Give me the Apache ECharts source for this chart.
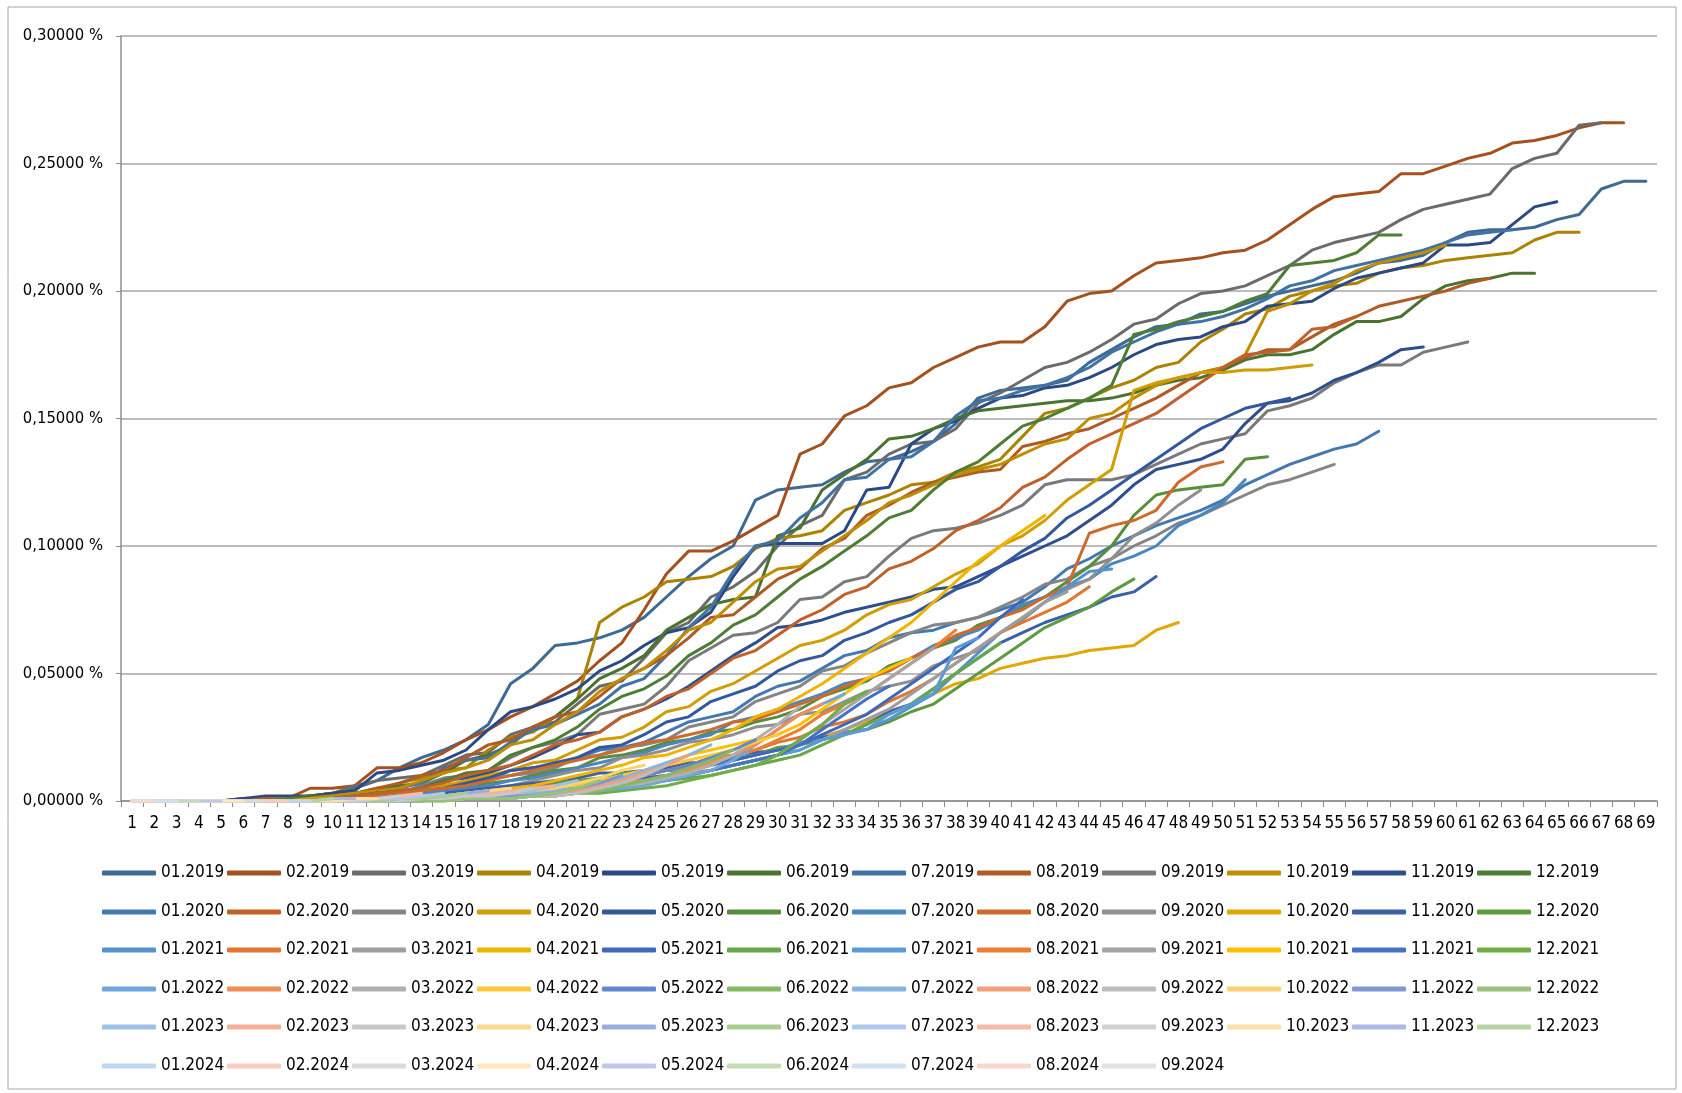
<!DOCTYPE html>
<html>
<head>
<meta charset="utf-8">
<script src="https://cdn.jsdelivr.net/npm/echarts@6/dist/echarts.min.js"></script>
<style>
  html, body { margin: 0; padding: 0; background: #fff; }
  #chart { width: 1682px; height: 1093px; }
</style>
</head>
<body>
<div id="chart"></div>
<script>
// x axis: month since start (1..69)
var categories = ['1','2','3','4','5','6','7','8','9','10','11','12','13','14','15','16','17','18','19','20',
  '21','22','23','24','25','26','27','28','29','30','31','32','33','34','35','36','37','38','39','40',
  '41','42','43','44','45','46','47','48','49','50','51','52','53','54','55','56','57','58','59','60',
  '61','62','63','64','65','66','67','68','69'];

// y axis ticks, in percent
var yTicks = [0, 0.05, 0.10, 0.15, 0.20, 0.25, 0.30];

// cohort labels
var years = ['2019', '2020', '2021', '2022', '2023', '2024'];
var monthNames = ['01','02','03','04','05','06','07','08','09','10','11','12'];

// values in thousandths of a percent (266 -> 0,266 %)
var d2019 = [
  [0,0,0,0,0,1,1,1,2,3, 5,8,13,17,20,24,30,46,52,61, 62,64,67,72,80,88,95,100,118,122, 123,124,129,133,134,137,141,148,158,161, 162,163,165,172,177,182,186,187,191,192, 195,198,200,202,204,207,211,212,214,219, 223,224,224,225,228,230,240,243,243],
  [0,0,0,0,0,0,1,1,5,5, 6,13,13,15,19,24,28,33,37,42, 47,55,62,75,89,98,98,102,107,112, 136,140,151,155,162,164,170,174,178,180, 180,186,196,199,200,206,211,212,213,215, 216,220,226,232,237,238,239,246,246,249, 252,254,258,259,261,264,266,266],
  [0,0,0,0,0,1,1,1,2,3, 6,8,9,10,14,18,19,26,29,31, 38,45,47,56,66,70,80,84,90,100, 108,112,126,129,136,140,141,146,156,160, 165,170,172,176,181,187,189,195,199,200, 202,206,210,216,219,221,223,228,232,234, 236,238,248,252,254,265,266],
  [0,0,0,0,0,0,1,1,1,2, 3,4,7,9,12,13,20,25,27,33, 40,70,76,80,86,87,88,92,99,103, 104,106,114,117,120,124,125,129,131,134, 143,152,154,158,162,165,170,172,180,185, 191,193,198,200,202,203,207,209,210,212, 213,214,215,220,223,223],
  [0,0,0,0,0,1,2,2,2,3, 4,11,12,14,16,20,28,35,37,40, 44,51,55,61,66,68,74,88,100,101, 101,101,106,122,123,140,146,149,154,158, 159,162,163,166,170,175,179,181,182,186, 188,194,195,196,201,205,207,209,211,218, 218,219,226,233,235],
  [0,0,0,0,0,0,1,1,2,2, 3,5,6,7,11,16,18,22,29,33, 40,48,52,57,67,72,77,79,80,104, 107,122,128,134,142,143,146,150,153,154, 155,156,157,157,158,160,163,165,166,169, 173,175,175,177,183,188,188,190,197,202, 204,205,207,207],
  [0,0,0,0,0,0,0,1,1,2, 3,4,5,7,13,16,17,23,28,30, 34,38,45,48,57,68,76,90,100,102, 111,117,126,127,134,135,141,151,157,158, 161,163,166,170,176,180,184,187,188,190, 193,197,202,204,208,210,212,214,216,219, 222,223,224],
  [0,0,0,0,0,0,1,1,1,2, 3,5,7,10,12,17,22,24,29,33, 35,41,48,52,57,64,72,73,80,87, 91,99,103,112,116,121,125,127,129,130, 139,141,144,146,150,154,158,163,168,170, 174,177,177,182,187,190,194,196,198,200, 203,205],
  [0,0,0,0,0,0,0,1,1,1, 2,3,3,6,9,10,12,17,21,23, 26,34,36,38,45,55,60,65,66,70, 79,80,86,88,96,103,106,107,109,112, 116,124,126,126,126,128,132,136,140,142, 144,153,155,158,164,168,171,171,176,178, 180],
  [0,0,0,0,0,0,0,1,1,2, 3,4,5,8,11,13,16,22,24,30, 35,43,48,52,59,67,70,78,86,91, 92,98,104,110,117,120,124,128,130,132, 136,140,142,150,152,158,163,166,168,170, 175,192,195,200,203,208,211,213,215,218],
  [0,0,0,0,0,0,0,0,1,1, 2,3,3,5,8,9,11,14,17,21, 26,27,33,36,40,45,51,57,62,68, 69,71,74,76,78,80,83,84,88,92, 96,100,104,110,116,124,130,132,134,138, 148,156,157,160,165,168,172,177,178],
  [0,0,0,0,0,0,0,1,1,1, 2,3,4,5,8,11,12,18,21,24, 29,36,41,44,49,57,62,69,73,80, 87,92,98,104,111,114,122,129,133,140, 147,150,154,158,163,183,185,188,190,192, 196,199,210,211,212,215,222,222]
];
var d2020 = [
  [0,0,0,0,0,0,0,0,1,1, 1,2,3,4,6,7,8,12,13,14, 17,20,21,23,27,31,33,35,41,45, 47,52,57,59,64,66,67,70,72,75, 78,84,91,95,100,104,108,111,114,118, 124,128,132,135,138,140,145],
  [0,0,0,0,0,0,0,0,1,1, 2,3,4,5,7,10,12,14,18,22, 24,27,33,36,41,44,50,56,59,65, 71,75,81,84,91,94,99,106,110,115, 123,127,134,140,144,148,152,158,164,170, 175,176,177,185,186,190],
  [0,0,0,0,0,0,0,0,0,1, 1,2,3,4,5,6,9,10,11,13, 17,18,21,22,24,29,31,33,39,42, 45,51,53,58,62,66,69,70,72,76, 80,85,87,92,95,100,104,109,112,116, 120,124,126,129,132],
  [0,0,0,0,0,0,0,0,1,1, 1,2,3,4,6,8,10,12,15,16, 20,24,25,29,35,37,43,46,51,56, 61,63,67,73,77,79,84,89,93,100, 104,110,118,124,130,161,164,166,168,168, 169,169,170,171],
  [0,0,0,0,0,0,0,0,0,1, 1,2,3,4,5,7,9,12,13,15, 17,21,22,26,31,33,39,42,45,51, 55,57,63,66,70,73,78,83,86,92, 98,103,111,116,122,128,134,140,146,150, 154,156,158],
  [0,0,0,0,0,0,0,0,0,1, 1,1,2,3,4,5,7,8,10,12, 13,17,18,20,23,24,27,28,31,33, 36,41,44,47,53,56,60,63,69,72, 76,80,86,92,100,112,120,122,123,124, 134,135],
  [0,0,0,0,0,0,0,0,0,0, 1,1,2,3,4,5,6,8,9,11, 13,15,17,19,22,24,26,31,33,36, 39,42,46,48,51,56,61,64,67,72, 77,80,84,87,93,96,100,108,112,117, 126],
  [0,0,0,0,0,0,0,0,0,1, 1,2,3,4,5,6,8,10,12,14, 16,18,20,23,24,26,28,31,32,35, 38,41,45,48,51,56,60,65,68,72, 75,80,84,105,108,110,114,125,131,133],
  [0,0,0,0,0,0,0,0,0,0, 1,1,2,2,3,4,5,6,8,10, 12,13,17,18,20,23,24,26,29,30, 34,35,39,43,45,47,53,56,59,66, 71,78,83,87,95,104,109,116,122],
  [0,0,0,0,0,0,0,0,0,0, 0,1,1,1,2,2,3,3,4,5, 6,7,8,9,10,11,12,14,16,18, 22,25,28,31,35,38,42,46,48,52, 54,56,57,59,60,61,67,70],
  [0,0,0,0,0,0,0,0,0,0, 1,1,2,2,3,4,5,6,7,8, 9,11,11,12,13,15,15,16,19,20, 22,25,26,30,35,38,44,50,56,62, 66,70,73,76,80,82,88],
  [0,0,0,0,0,0,0,0,0,0, 0,1,1,2,2,3,4,5,6,7, 8,9,11,11,12,13,15,16,18,21, 22,24,27,28,31,35,38,44,50,56, 62,68,72,76,82,87]
];
var d2021 = [
  [0,0,0,0,0,0,0,0,0,0, 0,1,1,2,2,3,3,4,5,6, 7,8,9,10,12,12,14,17,18,20, 23,24,27,28,32,37,42,50,58,66, 72,78,84,90,91],
  [0,0,0,0,0,0,0,0,0,0, 0,0,1,1,2,2,3,4,5,6, 7,8,10,10,12,14,17,18,20,23, 25,29,31,34,39,43,48,54,60,66, 70,74,78,84],
  [0,0,0,0,0,0,0,0,0,0, 0,0,1,1,2,2,3,3,4,5, 6,7,8,9,10,11,12,14,16,18, 20,24,28,32,36,42,48,54,60,66, 72,78,82],
  [0,0,0,0,0,0,0,0,0,0, 0,1,1,2,2,3,4,5,6,8, 10,12,14,17,18,21,24,28,33,36, 41,46,52,58,64,70,78,86,94,100, 106,112],
  [0,0,0,0,0,0,0,0,0,0, 0,0,1,1,1,2,2,3,4,5, 6,7,8,9,10,12,14,16,18,20, 22,26,30,34,40,46,52,58,64,72, 79],
  [0,0,0,0,0,0,0,0,0,0, 0,0,0,1,1,1,2,2,3,3, 4,5,6,7,8,9,10,12,14,16, 18,22,26,30,34,38,44,50,56,62],
  [0,0,0,0,0,0,0,0,0,0, 0,0,0,1,1,1,2,2,3,3, 4,5,6,7,8,10,12,14,16,18, 20,24,26,28,34,38,42,60,64],
  [0,0,0,0,0,0,0,0,0,0, 0,0,0,1,1,2,2,3,4,5, 6,7,8,10,12,14,16,18,20,24, 28,34,38,42,48,54,60,67],
  [0,0,0,0,0,0,0,0,0,0, 0,0,0,0,1,1,2,2,3,4, 5,6,7,8,9,10,12,14,16,18, 24,30,36,42,48,54,60],
  [0,0,0,0,0,0,0,0,0,0, 0,0,0,1,1,2,2,3,4,5, 6,8,10,12,14,18,20,22,24,26, 30,36,42,48,52,56],
  [0,0,0,0,0,0,0,0,0,0, 0,0,0,0,1,1,2,2,3,3, 4,5,6,7,8,10,12,14,16,18, 22,28,34,40,45],
  [0,0,0,0,0,0,0,0,0,0, 0,0,0,0,0,1,1,1,2,2, 3,3,4,5,6,8,10,12,14,18, 24,30,38,43]
];
var d2022 = [
  [0,0,0,0,0,0,0,0,0,0, 0,0,0,0,1,1,1,2,2,3, 3,4,5,6,8,10,12,16,22,28, 34,38,42],
  [0,0,0,0,0,0,0,0,0,0, 0,0,1,1,1,2,2,3,3,4, 5,6,7,8,10,12,15,18,22,28, 34,38],
  [0,0,0,0,0,0,0,0,0,0, 0,0,0,0,1,1,1,2,2,3, 4,5,6,7,9,11,14,18,24,30, 37],
  [0,0,0,0,0,0,0,0,0,0, 0,0,0,1,1,2,2,3,4,5, 6,8,10,12,14,16,18,20,23,26],
  [0,0,0,0,0,0,0,0,0,0, 0,0,0,0,1,1,2,2,3,4, 5,6,8,10,12,14,17,20,24],
  [0,0,0,0,0,0,0,0,0,0, 0,0,0,0,0,1,1,1,2,2, 3,4,6,8,10,13,16,20],
  [0,0,0,0,0,0,0,0,0,0, 0,0,0,1,1,1,2,2,3,4, 5,7,9,12,15,18,22],
  [0,0,0,0,0,0,0,0,0,0, 0,0,0,0,1,1,1,2,2,3, 4,6,8,11,14,18],
  [0,0,0,0,0,0,0,0,0,0, 0,0,0,0,0,1,1,1,2,2, 3,5,7,10,14],
  [0,0,0,0,0,0,0,0,0,0, 0,0,0,1,1,1,2,3,4,5, 7,9,12,14],
  [0,0,0,0,0,0,0,0,0,0, 0,0,0,0,1,1,1,2,2,3, 5,7,10],
  [0,0,0,0,0,0,0,0,0,0, 0,0,0,0,0,1,1,1,2,3, 5,8]
];
var d2023 = [
  [0,0,0,0,0,0,0,0,0,0, 0,0,1,1,1,2,2,3,4,6, 8],
  [0,0,0,0,0,0,0,0,0,0, 0,0,1,1,2,2,3,4,5,6],
  [0,0,0,0,0,0,0,0,0,0, 0,0,0,1,1,2,2,3,5],
  [0,0,0,0,0,0,0,0,0,0, 0,1,1,2,2,3,4,5],
  [0,0,0,0,0,0,0,0,0,0, 0,0,1,1,2,3,4],
  [0,0,0,0,0,0,0,0,0,0, 0,0,1,1,2,3],
  [0,0,0,0,0,0,0,0,0,0, 0,1,1,2,3],
  [0,0,0,0,0,0,0,0,0,0, 1,1,2,3],
  [0,0,0,0,0,0,0,0,0,0, 0,1,2],
  [0,0,0,0,0,0,0,0,0,0, 1,1],
  [0,0,0,0,0,0,0,0,0,1, 1],
  [0,0,0,0,0,0,0,0,0,1]
];
var d2024 = [
  [0,0,0,0,0,0,0,0,0],
  [0,0,0,0,0,0,0,0],
  [0,0,0,0,0,0,0],
  [0,0,0,0,0,0],
  [0,0,0,0,0],
  [0,0,0,0],
  [0,0,0],
  [0,0],
  [0]
];

// colours per year row (dark -> light like the Excel theme shades)
var palette = [
  ['#3E6A94','#A5511F','#6B6B6B','#AC8300','#2B4A85','#4A7330','#4172A5','#B05A24','#7A7A7A','#BF8E00','#2E4E8E','#4E7E35'],
  ['#4379B0','#C0602A','#858585','#D09E00','#34589E','#578E3C','#4A86C0','#D06A2C','#8F8F8F','#E0A800','#3A60A8','#5E9A40'],
  ['#5593CC','#E0762F','#9E9E9E','#F0B400','#4068BA','#66A847','#5B9BD5','#ED7D31','#A5A5A5','#FFC000','#4472C4','#70AD47'],
  ['#6FA7DC','#F08D55','#B0B0B0','#FFC83A','#6386CC','#85BA63','#86B4E0','#F2A07A','#BDBDBD','#FFD070','#7F98D3','#97C27C'],
  ['#9CC0E6','#F5B09A','#C8C8C8','#FFD88F','#9AAEDC','#A9CC93','#AEC9EC','#F6BCA8','#D0D0D0','#FFDFA6','#ADB9E2','#B6D3A5'],
  ['#C1D6EF','#F8CCBE','#DADADA','#FFE7C0','#BFC8EA','#C6DCB9','#D2E0F3','#F9D7CC','#E2E2E2']
];

var font = "'Liberation Sans Narrow', 'DejaVu Sans Condensed', 'Liberation Sans', sans-serif";
var yearData = [d2019, d2020, d2021, d2022, d2023, d2024];

var series = [];
var legends = [];
var rowTops = [858, 897, 935, 974, 1012, 1051];

yearData.forEach(function (rows, yi) {
  var names = [];
  rows.forEach(function (vals, mi) {
    var name = monthNames[mi] + '.' + years[yi];
    names.push(name);
    series.push({
      name: name,
      type: 'line',
      data: vals.map(function (v) { return v / 1000; }),
      symbol: 'none',
      color: palette[yi][mi],
      lineStyle: { width: 3, cap: 'round', join: 'round' },
      emphasis: { disabled: true }
    });
  });
  // one legend per year row
  legends.push({
    data: names,
    top: rowTops[yi],
    left: 97,
    orient: 'horizontal',
    icon: 'roundRect',
    itemWidth: 54,
    itemHeight: 5,
    itemGap: 2,
    selectedMode: false,
    textStyle: { fontFamily: font, fontSize: 17, color: '#000', width: 64, lineHeight: 20 }
  });
});

var myChart = echarts.init(document.getElementById('chart'));
var option = {
  animation: false,
  backgroundColor: '#fff',
  graphic: [{
    type: 'rect',
    shape: { x: 8, y: 7, width: 1668, height: 1082 },
    style: { fill: 'none', stroke: '#a6a6a6', lineWidth: 1 },
    silent: true
  }],
  grid: { left: 121, right: 25, top: 36, bottom: 292 },
  legend: legends,
  xAxis: {
    type: 'category',
    data: categories,
    boundaryGap: true,
    axisLine: { lineStyle: { color: '#8c8c8c', width: 1.5 } },
    axisTick: { show: true, length: 6, interval: 0, lineStyle: { color: '#8c8c8c' } },
    axisLabel: { interval: 0, margin: 14, fontFamily: font, fontSize: 17, color: '#000' }
  },
  yAxis: {
    type: 'value',
    min: yTicks[0],
    max: yTicks[yTicks.length - 1],
    interval: yTicks[1] - yTicks[0],
    axisLine: { show: true, lineStyle: { color: '#8c8c8c', width: 1.5 } },
    axisTick: { show: true, length: 5, lineStyle: { color: '#8c8c8c' } },
    splitLine: { lineStyle: { color: '#a6a6a6', width: 1.5 } },
    axisLabel: {
      margin: 18,
      fontFamily: font,
      fontSize: 16.5,
      color: '#000',
      formatter: function (v) { return v.toFixed(5).replace('.', ',') + ' %'; }
    }
  },
  series: series
};
myChart.setOption(option);
window.addEventListener('resize', function () {
  myChart.resize();
});
</script>
</body>
</html>
